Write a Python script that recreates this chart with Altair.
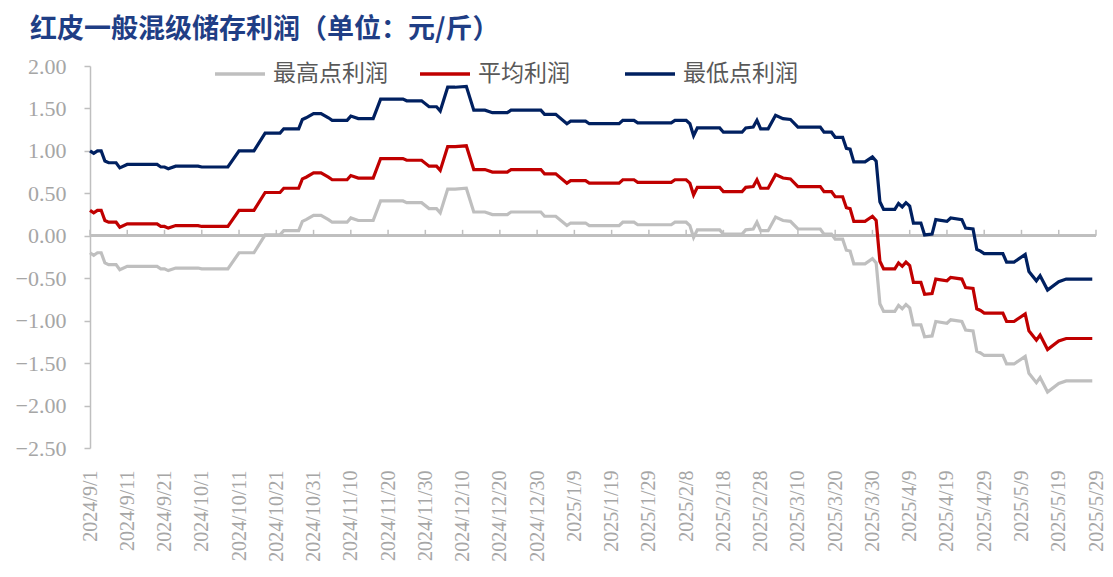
import altair as alt
import pandas as pd

# ---------------- data ----------------
dates = [
    "2024-09-01", "2024-09-02", "2024-09-03", "2024-09-04", "2024-09-05", "2024-09-06",
    "2024-09-08", "2024-09-09", "2024-09-11", "2024-09-19", "2024-09-20", "2024-09-21",
    "2024-09-22", "2024-09-24", "2024-09-30", "2024-10-01", "2024-10-08", "2024-10-11",
    "2024-10-15", "2024-10-18", "2024-10-22", "2024-10-23", "2024-10-27", "2024-10-28",
    "2024-10-29", "2024-10-31", "2024-11-02", "2024-11-04", "2024-11-05", "2024-11-09",
    "2024-11-10", "2024-11-12", "2024-11-16", "2024-11-18", "2024-11-24", "2024-11-25",
    "2024-11-29", "2024-12-01", "2024-12-03", "2024-12-04", "2024-12-06", "2024-12-08",
    "2024-12-11", "2024-12-13", "2024-12-16", "2024-12-18", "2024-12-22", "2024-12-23",
    "2024-12-31", "2025-01-01", "2025-01-04", "2025-01-07", "2025-01-08", "2025-01-12",
    "2025-01-13", "2025-01-21", "2025-01-22", "2025-01-25", "2025-01-26", "2025-02-04",
    "2025-02-05", "2025-02-08", "2025-02-09", "2025-02-10", "2025-02-11", "2025-02-17",
    "2025-02-18", "2025-02-23", "2025-02-24", "2025-02-26", "2025-02-27", "2025-02-28",
    "2025-03-02", "2025-03-04", "2025-03-06", "2025-03-08", "2025-03-10", "2025-03-16",
    "2025-03-17", "2025-03-19", "2025-03-20", "2025-03-22", "2025-03-23", "2025-03-24",
    "2025-03-25", "2025-03-28", "2025-03-30", "2025-03-31", "2025-04-01", "2025-04-02",
    "2025-04-05", "2025-04-06", "2025-04-07", "2025-04-08", "2025-04-09", "2025-04-10",
    "2025-04-12", "2025-04-13", "2025-04-15", "2025-04-16", "2025-04-19", "2025-04-20",
    "2025-04-23", "2025-04-24", "2025-04-26", "2025-04-27", "2025-04-28", "2025-04-29",
    "2025-05-04", "2025-05-05", "2025-05-07", "2025-05-10", "2025-05-11", "2025-05-13",
    "2025-05-14", "2025-05-16", "2025-05-19", "2025-05-21", "2025-05-28",
]

lowest = [
    1.00, 0.97, 1.00, 1.00, 0.88, 0.86,
    0.86, 0.80, 0.84, 0.84, 0.81, 0.81,
    0.79, 0.82, 0.82, 0.81, 0.81, 1.00,
    1.00, 1.21, 1.21, 1.26, 1.26, 1.37,
    1.39, 1.44, 1.44, 1.39, 1.36, 1.36,
    1.41, 1.38, 1.38, 1.61, 1.61, 1.59,
    1.59, 1.52, 1.52, 1.47, 1.75, 1.75,
    1.76, 1.48, 1.48, 1.45, 1.45, 1.48,
    1.48, 1.43, 1.43, 1.32, 1.35, 1.35,
    1.32, 1.32, 1.36, 1.36, 1.33, 1.33,
    1.36, 1.36, 1.32, 1.18, 1.27, 1.27,
    1.22, 1.22, 1.27, 1.28, 1.36, 1.26,
    1.26, 1.42, 1.38, 1.37, 1.28, 1.28,
    1.22, 1.22, 1.16, 1.16, 1.03, 1.02,
    0.87, 0.87, 0.93, 0.88, 0.40, 0.31,
    0.31, 0.38, 0.34, 0.39, 0.35, 0.15,
    0.15, 0.01, 0.02, 0.19, 0.17, 0.21,
    0.19, 0.09, 0.08, -0.16, -0.18, -0.21,
    -0.21, -0.31, -0.31, -0.22, -0.42, -0.53,
    -0.47, -0.64, -0.54, -0.51, -0.51,
]

average = [
    0.30, 0.27, 0.30, 0.30, 0.18, 0.16,
    0.16, 0.10, 0.14, 0.14, 0.11, 0.11,
    0.09, 0.12, 0.12, 0.11, 0.11, 0.30,
    0.30, 0.51, 0.51, 0.56, 0.56, 0.67,
    0.69, 0.74, 0.74, 0.69, 0.66, 0.66,
    0.71, 0.68, 0.68, 0.91, 0.91, 0.89,
    0.89, 0.82, 0.82, 0.77, 1.05, 1.05,
    1.06, 0.78, 0.78, 0.75, 0.75, 0.78,
    0.78, 0.73, 0.73, 0.62, 0.65, 0.65,
    0.62, 0.62, 0.66, 0.66, 0.63, 0.63,
    0.66, 0.66, 0.62, 0.48, 0.57, 0.57,
    0.52, 0.52, 0.57, 0.58, 0.66, 0.56,
    0.56, 0.72, 0.68, 0.67, 0.58, 0.58,
    0.52, 0.52, 0.46, 0.46, 0.33, 0.32,
    0.17, 0.17, 0.23, 0.18, -0.30, -0.39,
    -0.39, -0.32, -0.36, -0.31, -0.35, -0.55,
    -0.55, -0.69, -0.68, -0.51, -0.53, -0.49,
    -0.51, -0.61, -0.62, -0.86, -0.88, -0.91,
    -0.91, -1.01, -1.01, -0.92, -1.12, -1.23,
    -1.17, -1.34, -1.24, -1.21, -1.21,
]

highest = [
    -0.20, -0.23, -0.20, -0.20, -0.32, -0.34,
    -0.34, -0.40, -0.36, -0.36, -0.39, -0.39,
    -0.41, -0.38, -0.38, -0.39, -0.39, -0.20,
    -0.20, 0.01, 0.01, 0.06, 0.06, 0.17,
    0.19, 0.24, 0.24, 0.19, 0.16, 0.16,
    0.21, 0.18, 0.18, 0.41, 0.41, 0.39,
    0.39, 0.32, 0.32, 0.27, 0.55, 0.55,
    0.56, 0.28, 0.28, 0.25, 0.25, 0.28,
    0.28, 0.23, 0.23, 0.12, 0.15, 0.15,
    0.12, 0.12, 0.16, 0.16, 0.13, 0.13,
    0.16, 0.16, 0.12, -0.02, 0.07, 0.07,
    0.02, 0.02, 0.07, 0.08, 0.16, 0.06,
    0.06, 0.22, 0.18, 0.17, 0.08, 0.08,
    0.02, 0.02, -0.04, -0.04, -0.17, -0.18,
    -0.33, -0.33, -0.27, -0.32, -0.80, -0.89,
    -0.89, -0.82, -0.86, -0.81, -0.85, -1.05,
    -1.05, -1.19, -1.18, -1.01, -1.03, -0.99,
    -1.01, -1.11, -1.12, -1.36, -1.38, -1.41,
    -1.41, -1.51, -1.51, -1.42, -1.62, -1.73,
    -1.67, -1.84, -1.74, -1.71, -1.71,
]

series_names = ["最高点利润", "平均利润", "最低点利润"]
series_colors = ["#BFBFBF", "#C00000", "#002060"]

tick_dates = [
    "2024-09-01", "2024-09-11", "2024-09-21", "2024-10-01", "2024-10-11", "2024-10-21",
    "2024-10-31", "2024-11-10", "2024-11-20", "2024-11-30", "2024-12-10", "2024-12-20",
    "2024-12-30", "2025-01-09", "2025-01-19", "2025-01-29", "2025-02-08", "2025-02-18",
    "2025-02-28", "2025-03-10", "2025-03-20", "2025-03-30", "2025-04-09", "2025-04-19",
    "2025-04-29", "2025-05-09", "2025-05-19", "2025-05-29",
]
y_ticks = [-2.5, -2.0, -1.5, -1.0, -0.5, 0.0, 0.5, 1.0, 1.5, 2.0]
x_domain = ["2024-09-01", "2025-05-29"]
title_text = "红皮一般混级储存利润（单位：元/斤）"

# ---------------- build ----------------
def to_dt(s):
    y, m, d = (int(p) for p in s.split("-"))
    return alt.DateTime(year=y, month=m, date=d, utc=True)

df = pd.DataFrame({"date": dates, series_names[0]: highest,
                   series_names[1]: average, series_names[2]: lowest})
long = df.melt("date", var_name="series", value_name="value")
ticks_df = pd.DataFrame({"date": tick_dates})

x_scale = alt.Scale(type="utc", domain=[to_dt(x_domain[0]), to_dt(x_domain[1])])
y_scale = alt.Scale(domain=[y_ticks[0], y_ticks[-1]], nice=False, zero=False)

axis_grey = "#BFBFBF"
label_grey = "#A6A6A6"

x_axis = alt.Axis(values=[to_dt(t) for t in tick_dates], format="%Y/%-m/%-d",
                  labelAngle=270, labelFont="Liberation Serif", labelFontSize=20,
                  labelColor=label_grey, labelPadding=22, domain=False, ticks=False,
                  grid=False, labelOverlap=False, labelFlush=False, title=None)

zero_line = alt.Chart(ticks_df).mark_rule(color=axis_grey, strokeWidth=2).encode(
    y=alt.datum(0)
)

x_ticks = alt.Chart(ticks_df).mark_rule(color=axis_grey, strokeWidth=1.5).encode(
    x=alt.X("date:T", scale=x_scale, axis=x_axis),
    y=alt.datum(0, type="quantitative"),
    y2=alt.datum(0.07),
)

lines = alt.Chart(long).mark_line(strokeWidth=3.2, interpolate="linear").encode(
    x=alt.X("date:T", scale=x_scale, axis=x_axis),
    y=alt.Y("value:Q", scale=y_scale, title=None,
            axis=alt.Axis(values=y_ticks, format=".2f", labelFont="Liberation Serif",
                          labelFontSize=22, labelColor=label_grey, labelPadding=18,
                          domainColor=axis_grey, domainWidth=1.5, tickColor=axis_grey,
                          tickSize=6, tickWidth=1.5, grid=False)),
    color=alt.Color("series:N", sort=series_names,
                    scale=alt.Scale(domain=series_names, range=series_colors),
                    legend=alt.Legend(orient="none", legendX=123, legendY=-19,
                                      direction="horizontal", title=None,
                                      symbolType="stroke", symbolSize=2500,
                                      symbolStrokeWidth=3.5, labelFont="Noto Sans CJK SC",
                                      labelFontSize=23, labelColor="#595959",
                                      labelOffset=6, columnPadding=25, gridAlign="all")),
    order=alt.Order("date:T"),
)

chart = alt.layer(zero_line, x_ticks, lines).properties(
    width=1006,
    height=382,
    padding={"left": 82, "top": 58, "right": 9, "bottom": 121},
    autosize=alt.AutoSizeParams(type="none"),
    title=alt.TitleParams(title_text, anchor="start", frame="group", dx=-60, dy=13,
                          offset=16, font="Noto Sans CJK SC", fontSize=27,
                          fontWeight="bold", color="#1F3E85"),
).configure_view(stroke=None)

chart.save("out.html", embed_options={"renderer": "svg", "actions": False})
